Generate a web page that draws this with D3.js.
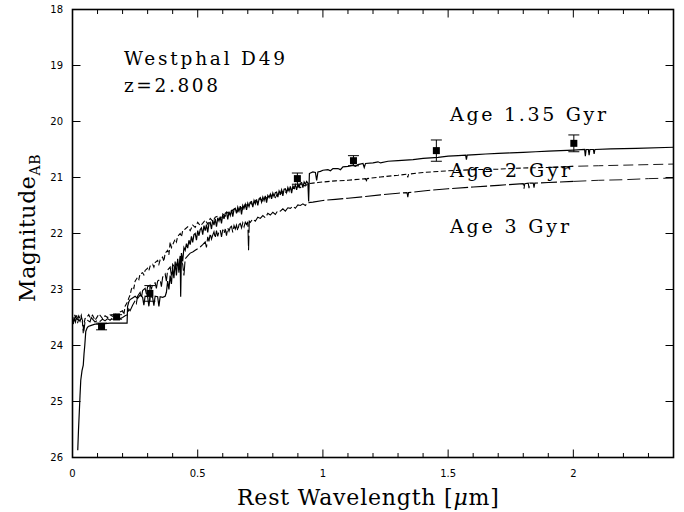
<!DOCTYPE html>
<html><head><meta charset="utf-8">
<script src="https://cdn.jsdelivr.net/npm/d3@7"></script>
<style>html,body{margin:0;padding:0;background:#fff;}svg{display:block;}</style>
</head><body>
<svg id="c" width="684" height="512"></svg>
<script>
// ---------------- data ----------------
const xMajorTicks = [0, 0.5, 1, 1.5, 2];
const xMajorLabels = ["0", "0.5", "1", "1.5", "2"];
const xMinorTicks = [0.1,0.2,0.3,0.4,0.6,0.7,0.8,0.9,1.1,1.2,1.3,1.4,1.6,1.7,1.8,1.9,2.1,2.2,2.3];
const yTicks = [18, 19, 20, 21, 22, 23, 24, 25, 26];
const yLabels = ["18", "19", "20", "21", "22", "23", "24", "25", "26"];

// observed photometry
const obsWave = [0.116, 0.176, 0.309, 0.898, 1.122, 1.453, 2.002];
const obsMag  = [23.66, 23.49, 23.07, 21.02, 20.70, 20.52, 20.39];
const obsErr  = [0.06, 0.04, 0.14, 0.10, 0.09, 0.19, 0.15];

// model spectrum, age 1.35 Gyr (solid)
const age135Wave = [0.021,0.024,0.027,0.030,0.033,0.038,0.043,0.046,0.049,0.053,0.058,0.063,0.075,0.09,0.11,0.13,0.15,0.17,0.19,0.205,0.218,
 0.220,0.225,0.23,0.24,0.25,0.26,0.27,0.28,0.285,0.29,0.30,0.305,0.31,0.32,0.325,0.33,0.34,0.345,0.35,0.36,0.37,0.375,0.38,0.385,0.39,0.395,0.40,0.405,0.41,0.415,0.42,0.425,0.43,0.432,0.435,0.44,0.445,
 0.450,0.455,0.460,0.465,0.470,0.475,0.480,0.485,0.490,0.495,0.500,0.505,0.510,0.515,0.520,0.525,0.530,0.535,0.540,0.545,0.550,0.555,0.560,0.565,0.570,0.575,0.580,0.585,0.590,0.595,
 0.600,0.605,0.610,0.615,0.620,0.625,0.630,0.635,0.640,0.645,0.650,0.655,0.660,0.665,0.670,0.675,0.680,0.685,0.690,0.695,0.700,0.705,0.710,0.715,0.720,0.725,0.730,0.735,0.740,0.745,
 0.750,0.755,0.760,0.765,0.770,0.775,0.780,0.785,0.790,0.795,0.800,0.805,0.810,0.815,0.820,0.825,0.830,0.835,0.840,0.845,0.850,0.855,0.860,0.865,0.870,0.875,0.880,0.885,0.890,0.895,
 0.900,0.905,0.910,0.915,0.920,0.925,0.930,0.935,0.940,0.943,0.946,
 0.95,0.96,0.97,0.975,0.98,0.99,1.00,1.02,1.03,1.04,1.06,1.07,1.08,1.10,1.12,1.13,1.14,1.16,1.165,1.17,1.20,1.22,1.23,1.26,1.30,1.33,1.36,1.40,1.43,1.46,1.50,1.54,1.57,1.573,1.576,1.61,1.65,1.70,1.75,1.80,1.85,1.90,1.95,2.00,2.045,2.048,2.051,2.06,2.063,2.066,2.08,2.083,2.086,2.15,2.25,2.40];
const age135Mag = [25.87,25.5,25.2,24.9,24.62,24.45,24.35,24.15,24.0,23.75,23.69,23.66,23.64,23.62,23.62,23.61,23.6,23.6,23.6,23.6,23.6,
 23.30,23.22,23.18,23.15,23.12,23.16,23.10,23.14,23.28,23.12,23.13,23.30,23.12,23.14,23.29,23.12,23.13,23.30,23.13,23.14,23.12,23.05,22.85,23.0,22.75,22.9,22.6,22.8,22.5,22.75,22.45,22.65,22.4,23.13,22.35,22.5,22.25,
 22.30,22.18,22.26,22.12,22.20,22.05,22.16,22.02,22.00,22.12,21.95,22.04,21.93,21.90,22.02,21.86,21.95,21.84,21.98,21.82,21.80,21.92,21.76,21.85,21.74,21.88,21.72,21.78,21.70,21.82,
 21.66,21.74,21.64,21.62,21.75,21.61,21.68,21.58,21.70,21.57,21.55,21.64,21.53,21.60,21.51,21.66,21.50,21.55,21.48,21.58,21.46,21.52,21.44,21.43,21.53,21.41,21.47,21.39,21.50,21.38,
 21.36,21.44,21.35,21.41,21.33,21.45,21.32,21.36,21.30,21.38,21.28,21.34,21.27,21.26,21.35,21.24,21.29,21.22,21.33,21.21,21.20,21.27,21.18,21.24,21.16,21.28,21.15,21.19,21.13,21.22,
 21.12,21.17,21.10,21.09,21.18,21.08,21.12,21.07,21.10,21.43,20.93,
 20.92,20.90,20.91,21.05,20.90,20.89,20.87,20.86,20.88,20.84,20.84,20.86,20.81,20.80,20.78,20.80,20.77,20.75,20.82,20.75,20.74,20.72,20.74,20.71,20.70,20.69,20.68,20.66,20.65,20.64,20.62,20.61,20.60,20.68,20.60,20.59,20.58,20.57,20.56,20.55,20.54,20.53,20.52,20.51,20.50,20.62,20.50,20.50,20.60,20.50,20.50,20.58,20.50,20.49,20.48,20.46];

// model spectrum, age 2 Gyr (short dashes)
const age2Wave = [0.003,0.008,0.012,0.016,0.02,0.025,0.03,0.035,0.04,0.043,0.046,0.05,0.06,0.065,0.07,0.08,0.09,0.1,0.105,0.11,0.12,0.13,0.14,0.15,0.16,0.17,0.18,0.19,0.2,0.205,0.21,0.22,0.225,0.23,0.235,0.24,0.245,0.25,0.26,0.265,0.27,0.28,0.285,0.29,0.30,0.305,0.31,0.32,0.325,0.33,0.34,0.345,0.35,0.36,0.365,0.37,0.38,0.385,0.39,0.395,0.40,0.41,0.415,0.42,0.43,0.435,0.44,0.45,
 0.46,0.47,0.48,0.49,0.50,0.51,0.52,0.53,0.54,0.55,0.56,0.57,0.58,0.59,0.60,0.61,0.62,0.63,0.64,0.65,0.66,0.67,0.68,0.69,0.70,0.71,0.72,0.73,0.74,0.75,0.76,0.77,0.78,0.79,0.80,0.81,0.82,0.83,0.84,0.85,0.86,0.87,0.88,0.89,0.90,0.91,0.92,0.93,0.94,
 0.96,0.98,1.0,1.05,1.1,1.17,1.173,1.176,1.23,1.30,1.336,1.339,1.342,1.40,1.5,1.6,1.7,1.8,1.9,2.0,2.1,2.2,2.3,2.4];
const age2Mag = [23.58,23.45,23.5,23.44,23.55,23.47,23.52,23.46,23.6,23.78,23.62,23.52,23.48,23.45,23.5,23.46,23.55,23.48,23.44,23.46,23.52,23.47,23.5,23.45,23.48,23.43,23.47,23.4,23.38,23.45,23.3,23.22,23.15,23.1,23.0,22.95,22.98,22.85,22.78,22.82,22.72,22.7,22.74,22.66,22.62,22.66,22.58,22.55,22.6,22.52,22.48,22.55,22.47,22.42,22.5,22.35,22.3,22.38,22.15,22.25,22.2,22.1,22.15,22.05,22.0,22.06,21.95,21.92,
 21.88,21.95,21.85,21.89,21.80,21.86,21.82,21.76,21.83,21.73,21.78,21.71,21.69,21.75,21.65,21.69,21.62,21.66,21.58,21.55,21.61,21.52,21.57,21.48,21.50,21.45,21.49,21.41,21.44,21.38,21.42,21.35,21.38,21.32,21.31,21.36,21.28,21.30,21.25,21.27,21.22,21.24,21.19,21.20,21.16,21.18,21.14,21.15,21.11,
 21.1,21.09,21.08,21.06,21.05,21.02,21.08,21.02,20.99,20.96,20.94,21.0,20.94,20.91,20.88,20.86,20.85,20.83,20.82,20.8,20.79,20.78,20.77,20.76];

// model spectrum, age 3 Gyr (long dashes)
const age3Wave = [0.003,0.008,0.012,0.016,0.02,0.025,0.03,0.035,0.04,0.045,0.05,0.06,0.07,0.075,0.08,0.09,0.1,0.11,0.12,0.13,0.14,0.15,0.16,0.17,0.18,0.19,0.2,0.21,0.22,0.225,0.23,0.24,0.25,0.255,0.26,0.27,0.275,0.28,0.29,0.295,0.30,0.31,0.315,0.32,0.33,0.335,0.34,0.35,0.355,0.36,0.37,0.375,0.38,0.39,0.395,0.40,0.41,0.42,0.425,0.43,0.44,0.445,0.45,
 0.46,0.47,0.48,0.49,0.50,0.51,0.52,0.53,0.535,0.54,0.545,0.55,0.555,0.56,0.565,0.57,0.575,0.58,0.585,0.59,0.595,0.60,0.605,0.61,0.615,0.62,0.625,0.63,0.635,0.64,0.645,0.65,0.655,0.66,0.665,0.67,0.675,0.68,0.685,0.69,0.695,0.70,0.703,0.706,
 0.71,0.72,0.73,0.74,0.75,0.76,0.77,0.78,0.79,0.80,0.81,0.82,0.83,0.84,0.85,0.86,0.87,0.88,0.89,0.90,0.91,0.92,0.93,0.94,
 0.96,1.0,1.05,1.1,1.17,1.23,1.3,1.336,1.339,1.342,1.4,1.5,1.6,1.7,1.8,1.803,1.806,1.82,1.823,1.826,1.84,1.843,1.846,1.9,2.0,2.1,2.2,2.3,2.4];
const age3Mag = [23.62,23.52,23.58,23.5,23.6,23.53,23.57,23.5,23.55,23.75,23.58,23.55,23.58,23.5,23.53,23.58,23.55,23.57,23.53,23.56,23.52,23.55,23.5,23.53,23.49,23.52,23.5,23.47,23.45,23.35,23.38,23.28,23.2,23.25,23.12,23.05,23.15,23.02,22.98,23.08,22.95,22.92,23.0,22.9,22.88,22.98,22.85,22.82,22.95,22.78,22.72,22.85,22.65,22.6,22.75,22.55,22.62,22.5,22.7,22.45,22.55,22.75,22.45,
 22.4,22.35,22.33,22.3,22.27,22.24,22.2,22.15,22.25,22.06,22.14,22.0,22.1,22.03,21.97,22.08,21.95,22.05,21.96,21.94,22.06,21.93,22.0,21.92,22.04,21.9,21.96,21.89,21.87,21.98,21.86,21.92,21.85,21.95,21.84,21.82,21.9,21.81,21.88,21.8,21.84,21.79,22.3,21.78,
 21.8,21.74,21.78,21.71,21.73,21.68,21.72,21.64,21.67,21.62,21.66,21.59,21.6,21.56,21.6,21.54,21.55,21.51,21.55,21.49,21.5,21.47,21.5,21.45,
 21.44,21.41,21.39,21.37,21.34,21.31,21.28,21.27,21.35,21.27,21.24,21.2,21.17,21.14,21.11,21.2,21.11,21.1,21.19,21.1,21.1,21.18,21.1,21.09,21.07,21.05,21.04,21.02,21.01];

const labelTitle = ["Westphal D49", "z=2.808"];
const ageLabels = ["Age 1.35 Gyr", "Age 2 Gyr", "Age 3 Gyr"];

// ---------------- drawing ----------------
const svg = d3.select("#c");
const L = 72.5, R = 673.5, T = 9.5, B = 457.5;
const x = d3.scaleLinear().domain([0, 2.4]).range([L, R]);
const y = d3.scaleLinear().domain([18, 26]).range([T, B]);

const zip = (a, b) => a.map((v, i) => [v, b[i]]);
const line = d3.line().x(d => x(d[0])).y(d => y(d[1]));
const g = svg.append("g");

const s135 = zip(age135Wave, age135Mag);
const s2 = zip(age2Wave, age2Mag);
const s3 = zip(age3Wave, age3Mag);
const split = 2.03;
function part(s, lo, hi) { return s.filter(d => d[0] >= lo && d[0] <= hi); }

g.append("path").attr("d", line(s135)).attr("fill","none").attr("stroke","#000").attr("stroke-width",1.2);
g.append("path").attr("d", line(part(s2, 0, split))).attr("fill","none").attr("stroke","#000").attr("stroke-width",1.1).attr("stroke-dasharray","5,2.5");
g.append("path").attr("d", line(part(s2, 1.9, 2.4))).attr("fill","none").attr("stroke","#000").attr("stroke-width",0.9).attr("stroke-dasharray","10,5");
g.append("path").attr("d", line(part(s3, 0, split))).attr("fill","none").attr("stroke","#000").attr("stroke-width",1.1).attr("stroke-dasharray","16,3");
g.append("path").attr("d", line(part(s3, 2.0, 2.4))).attr("fill","none").attr("stroke","#000").attr("stroke-width",0.9).attr("stroke-dasharray","13,5");

// photometry
const obs = obsWave.map((w, i) => ({w, m: obsMag[i], e: obsErr[i]}));
const og = g.append("g");
obs.forEach(d => {
  const cx = x(d.w);
  og.append("line").attr("x1",cx).attr("x2",cx).attr("y1",y(d.m-d.e)).attr("y2",y(d.m+d.e)).attr("stroke","#000").attr("stroke-width",1);
  [d.m-d.e, d.m+d.e].forEach(v => og.append("line").attr("x1",cx-5.5).attr("x2",cx+5.5).attr("y1",y(v)).attr("y2",y(v)).attr("stroke","#000").attr("stroke-width",1));
  og.append("rect").attr("x",cx-3.5).attr("y",y(d.m)-3.5).attr("width",7).attr("height",7).attr("fill","#000");
});

// frame
svg.append("rect").attr("x",L).attr("y",T).attr("width",R-L).attr("height",B-T).attr("fill","none").attr("stroke","#000").attr("stroke-width",1.6);

// ticks
const tk = svg.append("g").attr("stroke","#000").attr("stroke-width",1);
xMajorTicks.forEach(v => {
  tk.append("line").attr("x1",x(v)).attr("x2",x(v)).attr("y1",B).attr("y2",B-8);
  tk.append("line").attr("x1",x(v)).attr("x2",x(v)).attr("y1",T).attr("y2",T+8);
});
xMinorTicks.forEach(v => {
  tk.append("line").attr("x1",x(v)).attr("x2",x(v)).attr("y1",B).attr("y2",B-4.5);
  tk.append("line").attr("x1",x(v)).attr("x2",x(v)).attr("y1",T).attr("y2",T+4.5);
});
yTicks.forEach(v => {
  tk.append("line").attr("x1",L).attr("x2",L+8).attr("y1",y(v)).attr("y2",y(v));
  tk.append("line").attr("x1",R).attr("x2",R-8).attr("y1",y(v)).attr("y2",y(v));
});

const sans = "'DejaVu Sans', sans-serif";
const serif = "'DejaVu Serif', serif";
xMajorTicks.forEach((v, i) => {
  svg.append("text").attr("x",x(v)).attr("y",477).attr("text-anchor","middle")
    .attr("font-family",sans).attr("font-size",10).text(xMajorLabels[i]);
});
yTicks.forEach((v, i) => {
  svg.append("text").attr("x",63).attr("y",y(v)+3.6).attr("text-anchor","end")
    .attr("font-family",sans).attr("font-size",10).text(yLabels[i]);
});

function fitText(sel, w) {
  sel.attr("textLength", w).attr("lengthAdjust","spacing");
}
fitText(svg.append("text").attr("x",124).attr("y",65).attr("font-family",serif).attr("font-size",18.5).text(labelTitle[0]), 161);
fitText(svg.append("text").attr("x",124).attr("y",92).attr("font-family",serif).attr("font-size",18.5).text(labelTitle[1]), 94);
const ageY = [121, 177, 233];
const ageW = [156, 120, 119];
ageLabels.forEach((t, i) => {
  fitText(svg.append("text").attr("x",450).attr("y",ageY[i]).attr("font-family",serif).attr("font-size",19).text(t), ageW[i]);
});

// x-axis title
const xt = svg.append("text").attr("x",237).attr("y",505).attr("font-family",serif).attr("font-size",22).attr("letter-spacing",0.8);
xt.append("tspan").text("Rest Wavelength [");
xt.append("tspan").attr("font-style","italic").text("μ");
xt.append("tspan").text("m]");

// y-axis title
const yt = svg.append("text").attr("transform","translate(35,302) rotate(-90)").attr("font-family",serif).attr("font-size",22).attr("letter-spacing",0.6);
yt.append("tspan").text("Magnitude");
yt.append("tspan").attr("font-size",14).attr("dy",5).text("AB");
</script>
</body></html>
